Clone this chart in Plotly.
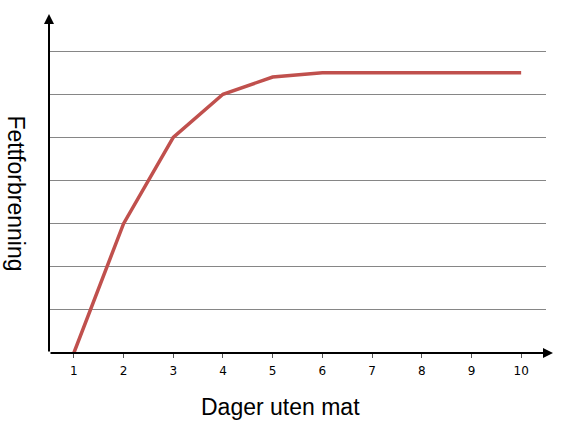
import plotly.graph_objects as go

days = [1, 2, 3, 4, 5, 6, 7, 8, 9, 10]
day_labels = ["1", "2", "3", "4", "5", "6", "7", "8", "9", "10"]
fat_burning = [0, 3, 5, 6, 6.4, 6.5, 6.5, 6.5, 6.5, 6.5]
x_title = "Dager uten mat"
y_title = "Fettforbrenning"

fig = go.Figure()
fig.add_trace(go.Scatter(
    x=days, y=fat_burning, mode="lines",
    line=dict(color="#C0504D", width=3.5),
    hoverinfo="skip", showlegend=False,
))

W, H = 570, 423
L, R, T, B = 49, 24, 49, 70
pw, ph = W - L - R, H - T - B
bottom = T + ph

def px_x(p):
    return (p - L) / pw

def px_y(p):
    return (bottom - p) / ph

fig.update_layout(
    width=W, height=H,
    margin=dict(l=L, r=R, t=T, b=B, autoexpand=False),
    paper_bgcolor="white", plot_bgcolor="white",
    showlegend=False,
    xaxis=dict(
        range=[0.5, 10.5], tickmode="array", tickvals=days, ticktext=day_labels,
        tickson="boundaries", ticks="outside", ticklen=4, tickcolor="#555555",
        ticklabelstandoff=3,
        showgrid=False, zeroline=False, showline=False,
        tickfont=dict(family="DejaVu Sans", size=12, color="black"),
        automargin=False,
    ),
    yaxis=dict(
        range=[0, 7.05], dtick=1, tick0=0, showticklabels=False,
        showgrid=True, gridcolor="#868686", gridwidth=1,
        zeroline=False, showline=False,
        automargin=False,
    ),
)

font_title = dict(family="Liberation Sans, Arial", size=23, color="black")
fig.add_annotation(x=px_x(280.5), y=px_y(407), xref="paper", yref="paper",
                   text=x_title, showarrow=False, font=font_title,
                   xanchor="center", yanchor="middle")
fig.add_annotation(x=px_x(16), y=px_y(193.5), xref="paper", yref="paper",
                   text=y_title, showarrow=False, font=font_title, textangle=90,
                   xanchor="center", yanchor="middle")

# axis lines with arrowheads
fig.add_annotation(x=0, y=px_y(14), xref="paper", yref="paper",
                   ax=0, ay=bottom - 14,
                   showarrow=True, arrowhead=2, arrowsize=1, arrowwidth=2,
                   arrowcolor="black", text="")
fig.add_annotation(x=px_x(553), y=0, xref="paper", yref="paper",
                   ax=-(553 - L), ay=0,
                   showarrow=True, arrowhead=2, arrowsize=1, arrowwidth=2,
                   arrowcolor="black", text="")

fig.write_html("out.html", config={"displayModeBar": False})

with open("out.html", "r", encoding="utf-8") as f:
    html = f.read()
html = html.replace("<head>", "<head><style>html,body{margin:0;padding:0;}</style>", 1)
with open("out.html", "w", encoding="utf-8") as f:
    f.write(html)
